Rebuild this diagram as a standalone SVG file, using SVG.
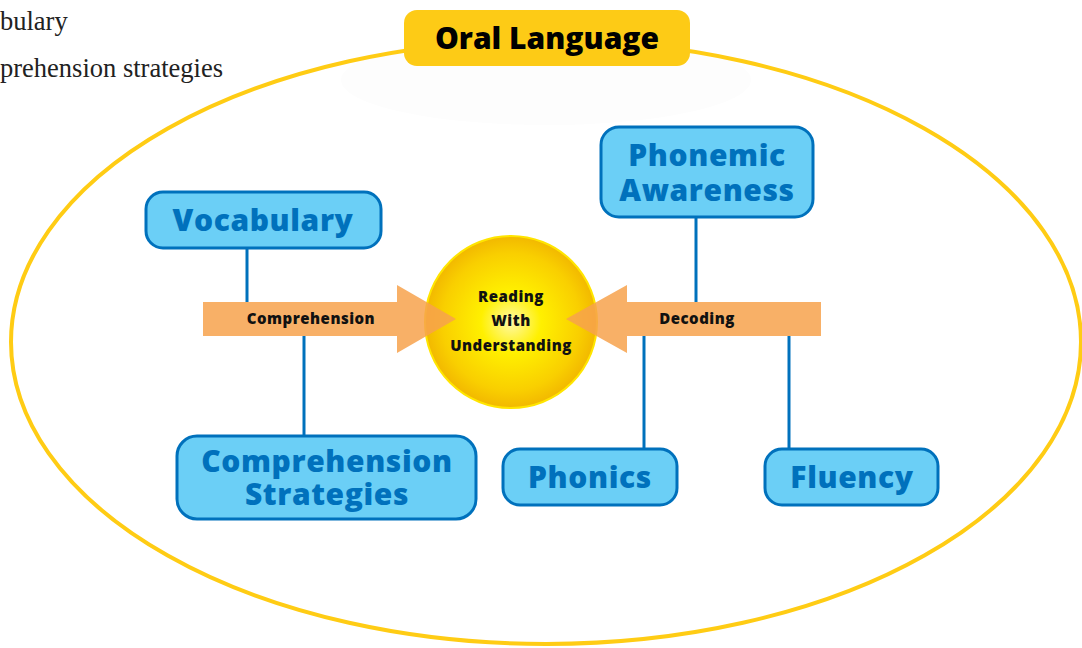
<svg xmlns="http://www.w3.org/2000/svg" width="1082" height="648" viewBox="0 0 1082 648">
<defs>
<radialGradient id="sun" cx="50%" cy="50%" r="50%">
<stop offset="0" stop-color="#FFF9A8"/>
<stop offset="0.35" stop-color="#FFF000"/>
<stop offset="0.8" stop-color="#F9CF00"/>
<stop offset="1" stop-color="#F2B800"/>
</radialGradient>
<style>
.box{fill:#6BCFF6;stroke:#0071BC;stroke-width:3}
.bt{font-family:"Open Sans","Liberation Sans",sans-serif;font-weight:800;font-size:30px;letter-spacing:0.6px;fill:#0071BC;text-anchor:middle}
.con{stroke:#0071BC;stroke-width:3;fill:none}
.arr{fill:#F7A24C;fill-opacity:0.85}
.lbl{font-family:"Open Sans","Liberation Sans",sans-serif;font-weight:800;font-size:15px;letter-spacing:0.5px;fill:#111;text-anchor:middle}
.ser{font-family:"Liberation Serif",serif;font-size:26.5px;fill:#222}
</style>
</defs>
<rect width="1082" height="648" fill="#fff"/>
<ellipse cx="546" cy="80" rx="205" ry="45" fill="#FDFDFD"/>
<ellipse cx="546" cy="342" rx="535" ry="302" fill="none" stroke="#FFCC14" stroke-width="4"/>
<text class="ser" x="0" y="30">bulary</text>
<text class="ser" x="0" y="77">prehension strategies</text>
<g id="connectors">
<line class="con" x1="247" y1="248" x2="247" y2="302"/>
<line class="con" x1="304" y1="336" x2="304" y2="436"/>
<line class="con" x1="696" y1="217" x2="696" y2="302"/>
<line class="con" x1="644" y1="336" x2="644" y2="449"/>
<line class="con" x1="789" y1="336" x2="789" y2="449"/>
</g>
<g id="reading">
<circle cx="511" cy="322" r="86" fill="url(#sun)" stroke="#FFE500" stroke-width="2"/>
<text class="lbl"><tspan x="511" y="302">Reading</tspan><tspan x="511" y="326">With</tspan><tspan x="511" y="351">Understanding</tspan></text>
</g>
<g id="arrow-comprehension">
<polygon class="arr" points="203,302 397,302 397,285 456,319 397,353 397,336 203,336"/>
<text class="lbl" x="311" y="324">Comprehension</text>
</g>
<g id="arrow-decoding">
<polygon class="arr" points="821,302 627,302 627,285 566,319 627,353 627,336 821,336"/>
<text class="lbl" x="697" y="324">Decoding</text>
</g>
<g id="oral-language">
<rect x="404" y="10" width="286" height="56" rx="13" fill="#FDCB16"/>
<text x="547" y="49" font-family="'Open Sans','Liberation Sans',sans-serif" font-weight="800" font-size="30" fill="#000" text-anchor="middle">Oral Language</text>
</g>
<g id="vocabulary">
<rect class="box" x="146" y="192" width="235" height="56" rx="17"/>
<text class="bt" x="263" y="231">Vocabulary</text>
</g>
<g id="phonemic-awareness">
<rect class="box" x="601" y="127" width="212" height="90" rx="18"/>
<text class="bt"><tspan x="707" y="166">Phonemic</tspan><tspan x="707" y="201">Awareness</tspan></text>
</g>
<g id="comprehension-strategies">
<rect class="box" x="177" y="436" width="299" height="83" rx="20"/>
<text class="bt"><tspan x="327" y="472">Comprehension</tspan><tspan x="327" y="505">Strategies</tspan></text>
</g>
<g id="phonics">
<rect class="box" x="503" y="449" width="174" height="56" rx="17"/>
<text class="bt" x="590" y="488">Phonics</text>
</g>
<g id="fluency">
<rect class="box" x="765" y="449" width="173" height="56" rx="17"/>
<text class="bt" x="852" y="488">Fluency</text>
</g>
</svg>
